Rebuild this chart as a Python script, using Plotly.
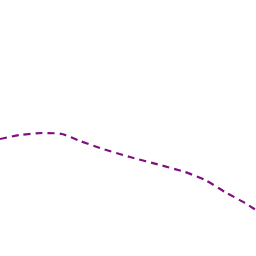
import plotly.graph_objects as go

x_vals = [0, 20, 42, 62, 80, 100, 130, 160, 185, 205, 225, 245, 256]
y_vals = [139, 135, 133, 134, 141, 148, 157, 165, 172, 180, 192, 203, 210]

fig = go.Figure(go.Scatter(
    x=x_vals, y=y_vals, mode="lines",
    line=dict(color="#800f80", width=2.2, dash="7px,5px", shape="spline", smoothing=0.6),
    hoverinfo="skip",
))
fig.update_layout(
    width=256, height=256, margin=dict(l=0, r=0, t=0, b=0),
    paper_bgcolor="white", plot_bgcolor="white", showlegend=False,
    xaxis=dict(range=[0, 256], visible=False),
    yaxis=dict(range=[256, 0], visible=False),
)
fig.write_html("out.html")
